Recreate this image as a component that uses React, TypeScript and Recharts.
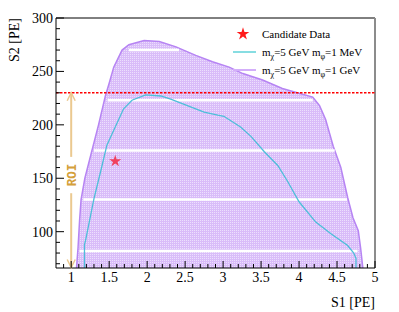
import React from 'react';
import {
  ComposedChart, Area, Line, Scatter, XAxis, YAxis, ZAxis,
  ReferenceLine, ReferenceDot, Label, Symbols,
} from 'recharts';

// m_phi = 1 GeV band, upper edge (the fill goes down to the frame)
const gevS1 = [1.07, 1.09, 1.11, 1.13, 1.18, 1.27, 1.36, 1.45, 1.5, 1.56, 1.67, 1.76, 1.96, 2.16, 2.38, 2.64, 2.86, 3.08, 3.26, 3.52, 3.78, 4.0, 4.18, 4.27, 4.35, 4.45, 4.55, 4.64, 4.71, 4.78, 4.81, 4.84];
const gevS2 = [66, 85, 110, 130, 150, 175, 200, 227, 239, 254, 270, 275, 279, 278, 273, 265, 259, 254, 248, 242, 234, 229.5, 226, 218, 205, 180, 160, 132, 113, 101, 85, 66];

// m_phi = 1 MeV contour
const mevS1 = [1.175, 1.175, 1.19, 1.3, 1.39, 1.47, 1.58, 1.69, 1.8, 1.98, 2.18, 2.31, 2.53, 2.75, 2.93, 3.01, 3.23, 3.37, 3.54, 3.72, 3.85, 4.0, 4.22, 4.42, 4.64, 4.72, 4.75, 4.75];
const mevS2 = [66, 88, 92, 131, 157, 181, 198, 215, 223, 228, 227, 224, 218, 212, 209, 208, 198, 189, 175, 162, 147, 128, 109, 98, 87, 80, 75, 66];

// candidate event
const candS1 = [1.58];
const candS2 = [166];

// white gaps in the hatched fill
const stripeS2 = [270, 223, 176, 130, 82];
const stripeFrom = [1.76, 1.48, 1.3, 1.16, 1.11];
const stripeTo = [2.42, 4.18, 4.47, 4.63, 4.77];

const roiS1 = 1.0;
const roiLow = 66.5;
const roiHigh = 230;
const roiGap = [136, 170];
const roiMid = 153;

const s1Major = [1, 1.5, 2, 2.5, 3, 3.5, 4, 4.5, 5];
const s2Major = [100, 150, 200, 250, 300];
const s1Ticks = Array.from({ length: 42 }, (_, i) => Math.round(9 + i) / 10);
const s2Ticks = Array.from({ length: 24 }, (_, i) => 70 + i * 10);

const gevBand = gevS1.map((x, i) => ({ x, y: gevS2[i] }));
const mevLine = mevS1.map((x, i) => ({ x, y: mevS2[i] }));
const candidates = candS1.map((x, i) => ({ x, y: candS2[i] }));
const stripes = stripeS2.flatMap((y, i) => [
  { x: stripeFrom[i], y },
  { x: stripeTo[i], y },
  { x: stripeTo[i] + 0.001, y: null },
]);
const roiUpper = [{ x: roiS1, y: roiHigh }, { x: roiS1, y: roiGap[1] }];
const roiLower = [{ x: roiS1, y: roiGap[0] }, { x: roiS1, y: roiLow }];

const FONT = '"Liberation Serif", "Times New Roman", serif';
const PURPLE = '#b684f3';
const CYAN = '#4dbfd9';
const ROI_LINE = '#ebc990';

const YTick = (props: any) => {
  const { x, y, payload } = props;
  const major = s2Major.includes(payload.value);
  return (
    <g>
      <line x1={x} x2={x + (major ? 8 : 4)} y1={y} y2={y} stroke="#000" />
      {major && (
        <text x={x - 3} y={y + 5} textAnchor="end" fontFamily={FONT} fontSize={14} fill="#000">
          {payload.value}
        </text>
      )}
    </g>
  );
};

const XTick = (props: any) => {
  const { x, y, payload } = props;
  const major = s1Major.some((m) => Math.abs(m - payload.value) < 1e-6);
  return (
    <g>
      <line x1={x} x2={x} y1={y} y2={y - (major ? 7 : 4)} stroke="#000" />
      {major && (
        <text x={x} y={y + 14} textAnchor="middle" fontFamily={FONT} fontSize={14} fill="#000">
          {payload.value}
        </text>
      )}
    </g>
  );
};

const ArrowHead = (up: boolean) => (p: any) => {
  const { cx, cy } = p;
  const d = up ? 8 : -8;
  return (
    <path d={`M${cx - 4},${cy + d} L${cx},${cy} L${cx + 4},${cy + d}`} fill="none" stroke={ROI_LINE} strokeWidth={1.5} />
  );
};

const RoiText = (p: any) => {
  const { cx, cy } = p;
  return (
    <text
      x={cx} y={cy} dy="0.35em" textAnchor="middle"
      transform={`rotate(-90, ${cx}, ${cy})`}
      fontFamily='"Liberation Mono", monospace' fontWeight="bold" fontSize={12.5} fill="#d4a03a"
    >
      ROI
    </text>
  );
};

const Sub = ({ children }: { children: React.ReactNode }) => (
  <span style={{ fontSize: 8, position: 'relative', top: 3 }}>{children}</span>
);

const LegendBox = () => (
  <div style={{ position: 'absolute', left: 230, top: 25, fontFamily: FONT, fontSize: 11, color: '#000' }}>
    <div style={{ display: 'flex', alignItems: 'center', height: 18 }}>
      <svg width={28} height={14}>
        <Symbols type="star" size={50} cx={13} cy={7} fill="#ff1a1a" />
      </svg>
      <span style={{ marginLeft: 4 }}>Candidate Data</span>
    </div>
    <div style={{ display: 'flex', alignItems: 'center', height: 18 }}>
      <svg width={28} height={14}>
        <line x1={3} x2={26} y1={7} y2={7} stroke="#5fd2d8" strokeWidth={1.5} />
      </svg>
      <span style={{ marginLeft: 4 }}>m<Sub>χ</Sub>=5 GeV m<Sub>φ</Sub>=1 MeV</span>
    </div>
    <div style={{ display: 'flex', alignItems: 'center', height: 18 }}>
      <svg width={28} height={14}>
        <line x1={3} x2={26} y1={7} y2={7} stroke="#d3aefa" strokeWidth={2} />
      </svg>
      <span style={{ marginLeft: 4 }}>m<Sub>χ</Sub>=5 GeV m<Sub>φ</Sub>=1 GeV</span>
    </div>
  </div>
);

export default function App() {
  return (
    <div style={{ position: 'absolute', left: 0, top: 0, width: 399, height: 312, background: '#fff' }}>
      <ComposedChart width={399} height={312} margin={{ top: 18, right: 24, bottom: 0, left: 0 }}>
        <defs>
          <pattern id="dots" width="2" height="2" patternUnits="userSpaceOnUse">
            <rect width="2" height="2" fill="#d9bcf9" />
            <rect width="1" height="1" fill="#ece0fd" />
          </pattern>
        </defs>
        <XAxis
          type="number" dataKey="x" domain={[0.8, 5]} allowDataOverflow
          ticks={s1Ticks} interval={0} tickSize={0} tickMargin={0} tickLine={false}
          tick={<XTick />} height={44} axisLine={{ stroke: '#000' }}
        >
          <Label
            content={({ viewBox }: any) => (
              <text x={viewBox.x + viewBox.width} y={viewBox.y + 39} textAnchor="end" fontFamily={FONT} fontSize={14} fill="#000">
                S1 [PE]
              </text>
            )}
          />
        </XAxis>
        <YAxis
          type="number" dataKey="y" domain={[66, 300]} allowDataOverflow
          ticks={s2Ticks} interval={0} tickSize={0} tickMargin={0} tickLine={false}
          tick={<YTick />} width={56} axisLine={{ stroke: '#000' }}
        >
          <Label
            content={({ viewBox }: any) => (
              <text
                x={19} y={viewBox.y} textAnchor="end" transform={`rotate(-90, 19, ${viewBox.y})`}
                fontFamily={FONT} fontSize={14} fill="#000"
              >
                S2 [PE]
              </text>
            )}
          />
        </YAxis>
        <ZAxis range={[45, 45]} />
        <Area
          data={gevBand} dataKey="y" type="linear" baseValue="dataMin"
          stroke={PURPLE} strokeWidth={1.5} fill="url(#dots)" fillOpacity={1}
          dot={false} activeDot={false} isAnimationActive={false}
        />
        <Line
          data={stripes} dataKey="y" type="linear" stroke="#fff" strokeWidth={2.5}
          dot={false} activeDot={false} connectNulls={false} isAnimationActive={false}
        />
        <Line
          data={mevLine} dataKey="y" type="linear" stroke={CYAN} strokeWidth={1.3}
          dot={false} activeDot={false} isAnimationActive={false}
        />
        <Line
          data={roiUpper} dataKey="y" type="linear" stroke={ROI_LINE} strokeWidth={2}
          dot={false} activeDot={false} isAnimationActive={false}
        />
        <Line
          data={roiLower} dataKey="y" type="linear" stroke={ROI_LINE} strokeWidth={2}
          dot={false} activeDot={false} isAnimationActive={false}
        />
        <ReferenceLine y={300} stroke="#000" />
        <ReferenceLine x={5} stroke="#8c8c8c" strokeWidth={2} />
        <ReferenceLine y={roiHigh} stroke="#ff0000" strokeWidth={1.5} strokeDasharray="2.5 1.5" />
        <ReferenceDot x={roiS1} y={roiHigh} shape={ArrowHead(true)} />
        <ReferenceDot x={roiS1} y={roiLow} shape={ArrowHead(false)} />
        <ReferenceDot x={roiS1} y={roiMid} shape={RoiText} />
        <Scatter data={candidates} dataKey="y" fill="#f0415e" shape="star" isAnimationActive={false} />
      </ComposedChart>
      <LegendBox />
    </div>
  );
}
